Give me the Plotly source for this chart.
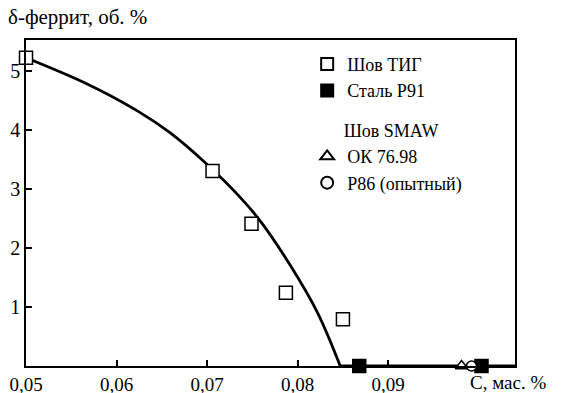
import plotly.graph_objects as go

# Data
tig_x = [0.0500, 0.0706, 0.0749, 0.0787, 0.0850]
tig_y = [5.22, 3.30, 2.41, 1.24, 0.79]

p91_x = [0.0868, 0.1003]
p91_y = [0.0, 0.0]

ok_x = [0.0981]
ok_y = [0.0]

p86_x = [0.0992]
p86_y = [0.0]

curve_x = [0.0500, 0.0567, 0.0623, 0.0659, 0.0698, 0.0735, 0.0759, 0.0792, 0.0822, 0.0847]
curve_y = [5.22, 4.78, 4.32, 3.95, 3.44, 2.88, 2.45, 1.70, 0.90, 0.0]

base_x = [0.0847, 0.1040]
base_y = [0.0, 0.0]

x_ticks = [0.05, 0.06, 0.07, 0.08, 0.09]
y_ticks = [1, 2, 3, 4, 5]

FONT = "Liberation Serif"

fig = go.Figure()

fig.add_trace(go.Scatter(x=curve_x, y=curve_y, mode="lines",
                         line=dict(color="black", width=2.8, shape="spline", smoothing=1.0),
                         showlegend=False, hoverinfo="skip"))
fig.add_trace(go.Scatter(x=base_x, y=base_y, mode="lines",
                         line=dict(color="black", width=2.8),
                         showlegend=False, hoverinfo="skip"))

fig.add_trace(go.Scatter(x=tig_x, y=tig_y, mode="markers", name="Шов ТИГ",
                         legendgroup="g1",
                         marker=dict(symbol="square", size=13, color="white",
                                     line=dict(color="black", width=1.5)),
                         cliponaxis=False))
fig.add_trace(go.Scatter(x=p91_x, y=p91_y, mode="markers", name="Сталь P91",
                         legendgroup="g1",
                         marker=dict(symbol="square", size=13, color="black",
                                     line=dict(color="black", width=1.5)),
                         cliponaxis=False))
fig.add_trace(go.Scatter(x=ok_x, y=ok_y, mode="markers", name="ОК 76.98",
                         legendgroup="g2",
                         legendgrouptitle=dict(text="\u00a0\u00a0\u00a0\u00a0\u00a0\u00a0\u00a0Шов SMAW",
                                               font=dict(family=FONT, size=18, color="black")),
                         marker=dict(symbol="triangle-up", size=11, color="white",
                                     line=dict(color="black", width=1.5)),
                         cliponaxis=False))
fig.add_trace(go.Scatter(x=p86_x, y=p86_y, mode="markers", name="P86 (опытный)",
                         legendgroup="g2",
                         marker=dict(symbol="circle", size=10, color="white",
                                     line=dict(color="black", width=1.5)),
                         cliponaxis=False))

fig.update_layout(
    width=569, height=393,
    margin=dict(l=26, r=54, t=40, b=27),
    paper_bgcolor="white", plot_bgcolor="white",
    font=dict(family=FONT, size=20, color="black"),
    separators=",.",
    showlegend=True,
    legend=dict(x=0.575, y=0.982, xanchor="left", yanchor="top",
                bgcolor="rgba(0,0,0,0)", borderwidth=0,
                traceorder="grouped", tracegroupgap=13,
                font=dict(family=FONT, size=18, color="black"),
                itemsizing="constant"),
    xaxis=dict(range=[0.05, 0.104], tickvals=x_ticks, tickformat=".2f",
               automargin=False,
               showline=True, linecolor="black", linewidth=1.5, mirror=True,
               ticks="inside", ticklen=6, tickwidth=1.5, tickcolor="black",
               showgrid=False, zeroline=False,
               tickfont=dict(family=FONT, size=19, color="black")),
    yaxis=dict(range=[0, 5.52], tickvals=y_ticks,
               automargin=False,
               showline=True, linecolor="black", linewidth=1.5, mirror=True,
               ticks="inside", ticklen=6, tickwidth=1.5, tickcolor="black",
               showgrid=False, zeroline=False,
               tickfont=dict(family=FONT, size=20, color="black")),
    annotations=[
        dict(text="δ-феррит, об. %", xref="paper", yref="paper",
             x=-0.04, y=1.07, xanchor="left", yanchor="middle",
             showarrow=False, font=dict(family=FONT, size=21, color="black")),
        dict(text="C, мас. %", xref="paper", yref="paper",
             x=0.903, y=-0.05, xanchor="left", yanchor="middle",
             showarrow=False, font=dict(family=FONT, size=19, color="black")),
    ],
)

fig.write_html("out.html",
               config={"displayModeBar": False},
               post_script="document.body.style.margin='0px';document.body.style.padding='0px';")
